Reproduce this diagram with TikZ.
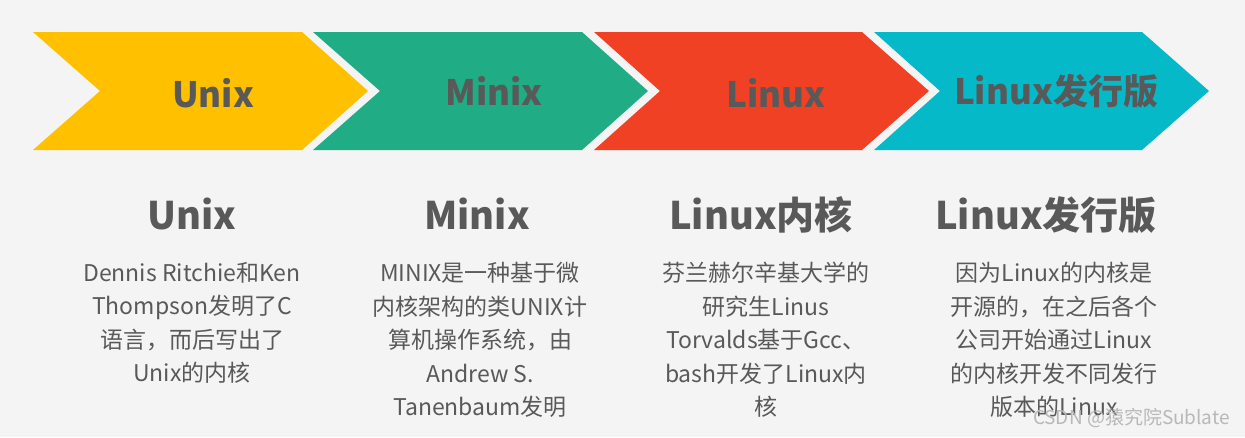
\documentclass[tikz,border=0pt]{standalone}
\usepackage{fontspec}
\setmainfont{Noto Sans CJK SC}
\newfontfamily\cjk{Noto Sans CJK SC}
\definecolor{bgc}{HTML}{F4F4F4}
\definecolor{cyel}{HTML}{FFC000}
\definecolor{cgrn}{HTML}{20AC84}
\definecolor{cred}{HTML}{F04124}
\definecolor{ccya}{HTML}{06B9C8}
\definecolor{txt}{HTML}{595959}
\definecolor{wm}{HTML}{B8B8B8}
\tikzset{
  chevlabel/.style={font=\cjk\bfseries\fontsize{35}{40}\selectfont, text=txt, inner sep=0pt},
  coltitle/.style={font=\cjk\bfseries\fontsize{38}{44}\selectfont, text=txt, inner sep=0pt, anchor=base},
  colbody/.style={font=\cjk\fontsize{23}{33.5}\selectfont, text=txt, inner sep=0pt, align=center, anchor=north},
}
\begin{document}
\begin{tikzpicture}[x=1pt,y=-1pt]
\fill[bgc] (0,0) rectangle (1245,437);
\useasboundingbox (0,0) rectangle (1245,437);
% chevrons
\fill[cyel] (33,32) -- (302,32) -- (368,91) -- (302,150) -- (33,150) -- (100,91) -- cycle;
\fill[cgrn] (313,32) -- (582,32) -- (648,91) -- (582,150) -- (313,150) -- (380,91) -- cycle;
\fill[cred] (594,32) -- (862,32) -- (929,91) -- (862,150) -- (594,150) -- (660,91) -- cycle;
\fill[ccya] (874,32) -- (1142,32) -- (1209,91) -- (1142,150) -- (874,150) -- (940,91) -- cycle;
% chevron labels
\node[chevlabel] (c1) at (213,93) {Unix};
\node[chevlabel] (c2) at (494,91) {Minix};
\node[chevlabel] (c3) at (776,93) {Linux};
\node[chevlabel] (c4) at (1056,91) {Linux发行版};
% titles
\node[coltitle] (t1) at (192,229) {Unix};
\node[coltitle] (t2) at (477,229) {Minix};
\node[coltitle] (t3) at (761,229) {Linux内核};
\node[coltitle] (t4) at (1046,229) {Linux发行版};
% bodies
\node[colbody] (b1) at (192,262) {Dennis Ritchie和Ken\\Thompson发明了C\\语言，而后写出了\\Unix的内核};
\node[colbody] (b2) at (480,262) {MINIX是一种基于微\\内核架构的类UNIX计\\算机操作系统，由\\Andrew S.\\Tanenbaum发明};
\node[colbody] (b3) at (766,262) {芬兰赫尔辛基大学的\\研究生Linus\\Torvalds基于Gcc、\\bash开发了Linux内\\核};
\node[colbody] (b4) at (1054,262) {因为Linux的内核是\\开源的，在之后各个\\公司开始通过Linux\\的内核开发不同发行\\版本的Linux};
% watermark
\node[font=\cjk\fontsize{19}{22}\selectfont, text=wm, anchor=base east, inner sep=0pt] (wmk) at (1230,424) {CSDN @猿究院Sublate};
\end{tikzpicture}
\end{document}
